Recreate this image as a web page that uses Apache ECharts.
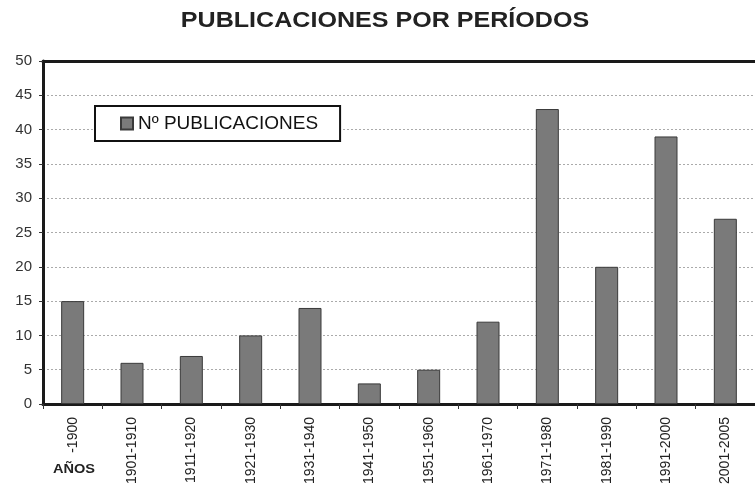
<!DOCTYPE html>
<html><head><meta charset="utf-8">
<script src="https://cdn.jsdelivr.net/npm/echarts@6/dist/echarts.min.js"></script>
<style>html,body{margin:0;padding:0;background:#fff}#c{width:755px;height:488px}</style>
</head><body><div id="c"></div>
<script>
const categories = ['-1900','1901-1910','1911-1920','1921-1930','1931-1940','1941-1950','1951-1960','1961-1970','1971-1980','1981-1990','1991-2000','2001-2005'];
const publicaciones = [15, 6, 7, 10, 14, 3, 5, 12, 43, 20, 39, 27];
const seriesName = 'Nº PUBLICACIONES';
const titleText = 'PUBLICACIONES POR PERÍODOS';
const xAxisName = 'AÑOS';

const chart = echarts.init(document.getElementById('c'), null, {renderer: 'canvas'});
const font = 'Liberation Sans, Arial, sans-serif';
chart.setOption({
  animation: false,
  backgroundColor: '#fff',
  legend: {
    left: 95, top: 106,
    padding: [8, 22, 8, 25],
    backgroundColor: '#fff', borderColor: '#111', borderWidth: 2,
    itemWidth: 12, itemHeight: 12, itemGap: 0,
    icon: 'rect',
    textStyle: {fontFamily: font, fontSize: 19, color: '#111'},
    data: [seriesName]
  },
  grid: {left: 43, top: 61, width: 717, height: 343, containLabel: false},
  xAxis: [{
    type: 'category', data: categories, position: 'bottom',
    axisLine: {lineStyle: {color: '#1a1a1a', width: 3}},
    axisTick: {show: true, interval: 0, length: 5, lineStyle: {color: '#333', width: 1}},
    axisLabel: {interval: 0, rotate: 90, margin: 13, fontFamily: font, fontSize: 14, color: '#222'}
  }, {
    type: 'category', data: categories, position: 'top',
    axisLine: {lineStyle: {color: '#1a1a1a', width: 3}},
    axisTick: {show: false}, axisLabel: {show: false}
  }],
  yAxis: {
    type: 'value', min: 0, max: 50, interval: 5,
    axisLine: {show: true, lineStyle: {color: '#1a1a1a', width: 3}},
    axisTick: {show: true, length: 4, lineStyle: {color: '#333', width: 1}},
    axisLabel: {margin: 11, fontFamily: font, fontSize: 15, color: '#333'},
    splitLine: {show: true, lineStyle: {color: '#aaa', type: [2, 2], width: 1}}
  },
  graphic: [{
    type: 'text', x: 385, y: 10, scaleX: 1.14, originX: 0,
    style: {text: titleText, font: 'bold 22px ' + font, fill: '#222', align: 'center', verticalAlign: 'top'}
  }, {
    type: 'text', x: 74, y: 463, scaleX: 1.12,
    style: {text: xAxisName, font: 'bold 13px ' + font, fill: '#222', align: 'center', verticalAlign: 'top'}
  }],
  series: [{
    name: seriesName, type: 'bar', data: publicaciones, barWidth: 23,
    itemStyle: {color: '#7a7a7a', borderColor: '#3a3a3a', borderWidth: 1}
  }]
});
</script></body></html>
